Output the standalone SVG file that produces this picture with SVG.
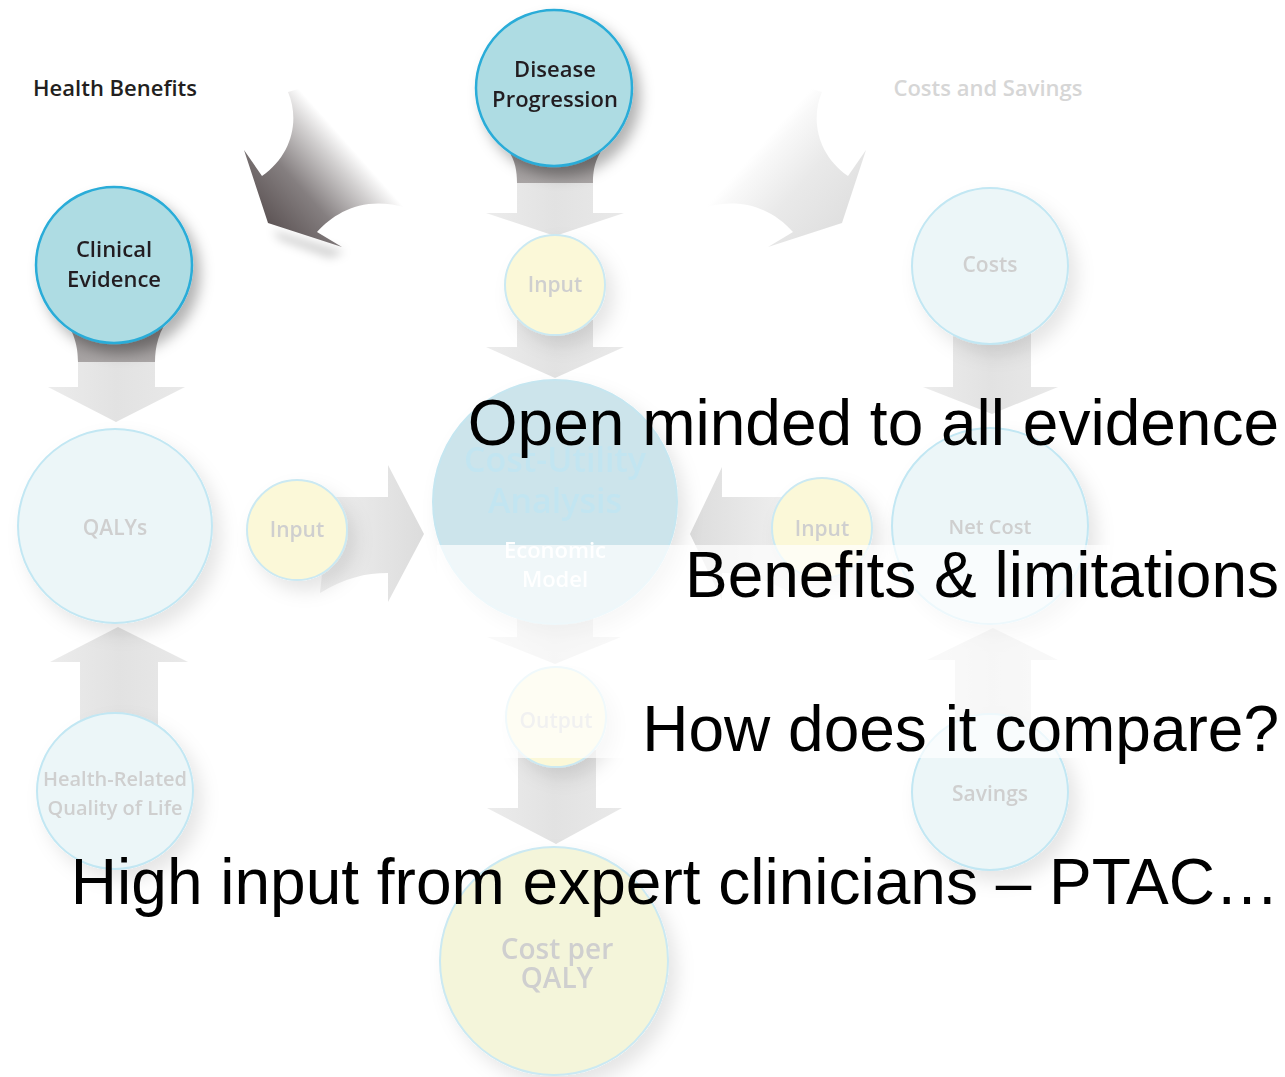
<svg xmlns="http://www.w3.org/2000/svg" width="1285" height="1077" viewBox="0 0 1285 1077">
<defs>
<style>
.lbl{font-family:'Open Sans','Noto Sans','DejaVu Sans',sans-serif;font-weight:600;text-anchor:middle}
.dark{fill:#231f20;font-size:22px}
.fade{fill:#cfcfcf;font-size:21px}
.big{font-family:'Liberation Sans',Arial,sans-serif;font-size:64px;fill:#000;text-anchor:end}
.strong{fill:#aedce3;stroke:#29acd8;stroke-width:2.5}
.pale{fill:#ecf6f8;stroke:#c2e7f3;stroke-width:2}
.inp{fill:#fbf8d8;stroke:#cbe9f2;stroke-width:2}
.arr{fill:url(#ga)}
.arrh{fill:url(#gah)}
</style>
<linearGradient id="ga" x1="0" y1="0" x2="1" y2="0">
<stop offset="0" stop-color="#ececec"/><stop offset="0.5" stop-color="#e2e2e2"/><stop offset="1" stop-color="#e9e9e9"/>
</linearGradient>
<linearGradient id="gah" x1="0" y1="0" x2="1" y2="0">
<stop offset="0" stop-color="#f0f0f0"/><stop offset="1" stop-color="#dcdcdc"/>
</linearGradient>
<linearGradient id="gahl" x1="1" y1="0" x2="0" y2="0">
<stop offset="0" stop-color="#f0f0f0"/><stop offset="1" stop-color="#dcdcdc"/>
</linearGradient>
<linearGradient id="gstem" x1="0" y1="0" x2="0" y2="1">
<stop offset="0" stop-color="#8c8787"/><stop offset="1" stop-color="#a9a5a5"/>
</linearGradient>
<linearGradient id="ghb" gradientUnits="userSpaceOnUse" x1="268" y1="228" x2="395" y2="115">
<stop offset="0" stop-color="#5b5253"/><stop offset="0.3" stop-color="#857f80"/><stop offset="0.55" stop-color="#d3d1d1"/><stop offset="0.68" stop-color="#ffffff"/>
</linearGradient>
<linearGradient id="gcs" gradientUnits="userSpaceOnUse" x1="268" y1="228" x2="395" y2="115">
<stop offset="0" stop-color="#dfdfdf"/><stop offset="0.35" stop-color="#e9e9e9"/><stop offset="0.6" stop-color="#f8f8f8"/><stop offset="0.68" stop-color="#ffffff"/>
</linearGradient>
<filter id="sh" x="-30%" y="-30%" width="170%" height="170%">
<feDropShadow dx="7" dy="9" stdDeviation="7" flood-color="#000" flood-opacity="0.3"/>
</filter>
<filter id="shf" x="-30%" y="-30%" width="170%" height="170%">
<feDropShadow dx="8" dy="10" stdDeviation="9" flood-color="#000" flood-opacity="0.1"/>
</filter>
<filter id="blur" x="-50%" y="-50%" width="200%" height="200%">
<feGaussianBlur stdDeviation="5"/>
</filter>
</defs>
<rect width="1285" height="1077" fill="#ffffff"/>

<g id="connectors">
<path d="M272,230 L345,252 L330,258 L280,240 Z" fill="#000" fill-opacity="0.18" filter="url(#blur)"/>
<path id="arrow-health-benefits" fill="url(#ghb)" d="M288,92 C300,120 292,155 262,176 L244,150 L268,223 L342,247 L317,232 C335,212 365,195 407,208 L430,190 L330,80 Z"/>
<path id="arrow-costs-savings" fill="url(#gcs)" transform="translate(1110,0) scale(-1,1)" d="M288,92 C300,120 292,155 262,176 L244,150 L268,223 L342,247 L317,232 C335,212 365,195 407,208 L430,190 L330,80 Z"/>
<path class="arr" d="M517,150 L517,213 L486,213 L555,236 L624,213 L593,213 L593,150 Z"/>
<path d="M498,140 C514,152 517,168 517,183 L593,183 C593,168 596,152 612,140 Z" fill="url(#gstem)"/>
<path class="arr" d="M517,320 L517,347 L486,347 L555,378 L624,347 L593,347 L593,320 Z"/>
<path class="arr" d="M78,330 L78,387 L48,387 L116,422 L185,387 L155,387 L155,330 Z"/>
<path d="M60,315 C75,330 78,348 78,362 L155,362 C155,348 158,330 172,315 Z" fill="url(#gstem)"/>
<path class="arr" d="M953,330 L953,387 L923,387 L992,414 L1058,387 L1031,387 L1031,330 Z"/>
<path class="arr" d="M517,600 L517,637 L487,637 L555,664 L621,637 L593,637 L593,600 Z"/>
<path class="arr" d="M518,750 L518,808 L487,808 L556,844 L622,808 L596,808 L596,750 Z"/>
<path class="arr" d="M80,735 L80,662 L50,662 L118,627 L188,662 L158,662 L158,735 Z"/>
<path class="arr" d="M955,735 L955,660 L927,660 L993,628 L1058,660 L1031,660 L1031,735 Z"/>
<path class="arrh" d="M330,497 C350,497 365,497 388,497 L388,465 L424,534 L388,602 L388,573 C365,573 345,578 320,593 Z"/>
<path fill="url(#gahl)" d="M785,497 C765,497 745,497 722,497 L722,467 L690,534 L722,600 L722,573 C745,573 765,578 790,593 Z"/>
</g>

<g id="node-health-benefits"><text class="lbl dark" x="115" y="96">Health Benefits</text></g>
<g id="node-costs-savings"><text class="lbl" x="988" y="96" style="fill:#d6d6d6;font-size:22px">Costs and Savings</text></g>

<g id="node-disease-progression" filter="url(#sh)">
<circle class="strong" cx="554" cy="88" r="78"/>
<text class="lbl dark" x="555" y="77">Disease</text>
<text class="lbl dark" x="555" y="107">Progression</text>
</g>
<g id="node-clinical-evidence" filter="url(#sh)">
<circle class="strong" cx="114" cy="265" r="78"/>
<text class="lbl dark" x="114" y="257">Clinical</text>
<text class="lbl dark" x="114" y="287">Evidence</text>
</g>
<g id="node-input-top" filter="url(#shf)">
<circle class="inp" cx="555" cy="285" r="50"/>
<text class="lbl fade" x="555" y="292">Input</text>
</g>
<g id="node-costs" filter="url(#shf)">
<circle class="pale" cx="990" cy="266" r="78"/>
<text class="lbl fade" x="990" y="272">Costs</text>
</g>
<g id="node-qalys" filter="url(#shf)">
<circle class="pale" cx="115" cy="526" r="97"/>
<text class="lbl fade" x="115" y="535">QALYs</text>
</g>
<g id="node-input-left" filter="url(#shf)">
<circle class="inp" cx="297" cy="530" r="50"/>
<text class="lbl fade" x="297" y="537">Input</text>
</g>
<g id="node-cost-utility" filter="url(#shf)">
<circle cx="555" cy="502" r="122" fill="#cce4eb" stroke="#c6e6f0" stroke-width="2"/>
<text class="lbl" x="555" y="472" style="fill:#c2e5f1;font-size:34px">Cost-Utility</text>
<text class="lbl" x="555" y="513" style="fill:#c2e5f1;font-size:34px">Analysis</text>
<text class="lbl" x="555" y="558" style="fill:#ffffff;font-size:22px">Economic</text>
<text class="lbl" x="555" y="587" style="fill:#ffffff;font-size:22px">Model</text>
</g>
<g id="node-input-right" filter="url(#shf)">
<circle class="inp" cx="822" cy="528" r="50"/>
<text class="lbl fade" x="822" y="536">Input</text>
</g>
<g id="node-net-cost" filter="url(#shf)">
<circle class="pale" cx="990" cy="526" r="98"/>
<text class="lbl fade" x="990" y="534" style="font-size:20px">Net Cost</text>
</g>
<g id="node-output" filter="url(#shf)">
<circle class="inp" cx="556" cy="717" r="50"/>
<text class="lbl fade" x="556" y="728">Output</text>
</g>
<g id="node-hrqol" filter="url(#shf)">
<circle class="pale" cx="115" cy="791" r="78"/>
<text class="lbl fade" x="115" y="786" style="font-size:20px">Health-Related</text>
<text class="lbl fade" x="115" y="815" style="font-size:20px">Quality of Life</text>
</g>
<g id="node-savings" filter="url(#shf)">
<circle class="pale" cx="990" cy="792" r="78"/>
<text class="lbl fade" x="990" y="801">Savings</text>
</g>
<g id="node-cost-per-qaly" filter="url(#shf)">
<circle cx="554" cy="961" r="114" fill="#f4f5da" stroke="#cbe9f2" stroke-width="2"/>
<text class="lbl" x="557" y="959" style="fill:#cfcfcf;font-size:28px">Cost per</text>
<text class="lbl" x="557" y="988" style="fill:#cfcfcf;font-size:28px">QALY</text>
</g>

<rect x="437" y="545" width="673" height="213" fill="#ffffff" fill-opacity="0.7"/>

<g id="bullets">
<text class="big" x="1279" y="445">Open minded to all evidence</text>
<text class="big" x="1279" y="597">Benefits &amp; limitations</text>
<text class="big" x="1279" y="751">How does it compare?</text>
<text class="big" x="1279" y="904">High input from expert clinicians – PTAC…</text>
</g>
</svg>
